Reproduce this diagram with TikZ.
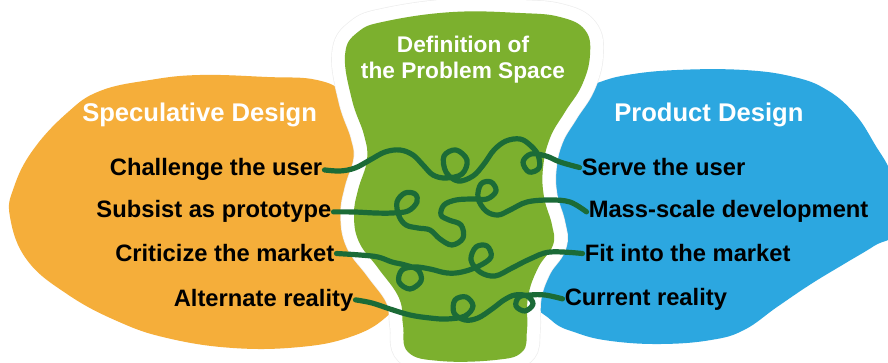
\documentclass[tikz,border=0pt]{standalone}
\usepackage{fontspec}
\setmainfont{Liberation Sans}
\definecolor{orangeblob}{RGB}{245,174,58}
\definecolor{greenblob}{RGB}{124,176,46}
\definecolor{blueblob}{RGB}{44,167,224}
\definecolor{linegreen}{RGB}{27,107,55}
\tikzset{
  lbl/.style={font=\fontsize{17.8}{20}\selectfont\bfseries, text=black, inner sep=1.5pt},
  ttl/.style={font=\fontsize{19.2}{22}\selectfont\bfseries, text=white, inner sep=0pt},
  ctl/.style={font=\fontsize{17}{19.5}\selectfont\bfseries, text=white, inner sep=0pt},
  squiggle/.style={draw=linegreen, line width=3.9pt, line cap=round, line join=round}
}
\begin{document}
\begin{tikzpicture}[x=0.75pt,y=-0.75pt]
\useasboundingbox (0,0) rectangle (888,363);
\clip (0,0) rectangle (888,363);
\fill[white] (0,0) rectangle (888,363);
% orange blob
\fill[orangeblob] plot[smooth cycle, tension=0.7] coordinates {
 (10,217) (14,187) (33,150) (67,113) (100,91) (150,80) (200,75) (267,77) (317,80)
 (345,95) (368,130) (388,180) (400,240) (402,292) (385,318) (350,337) (300,347)
 (233,348) (167,338) (117,321) (67,294) (27,260)};
% blue blob
\fill[blueblob] plot[smooth cycle, tension=0.7] coordinates {
 (530,120) (565,95) (597,83) (627,75) (677,70) (744,70) (794,77) (827,90) (854,113)
 (874,143) (893,180) (896,230) (874,246) (844,264) (811,284) (777,307) (744,330)
 (711,340) (661,344) (611,341) (577,333) (551,320) (530,290) (524,200)};
% green blob with white halo
\path[fill=greenblob,
      preaction={draw=black!7, line width=20.5pt},
      preaction={draw=white, line width=19.5pt}]
 plot[smooth cycle, tension=0.7] coordinates {
 (345,55) (358,32) (387,21) (453,12) (520,13) (560,17) (585,30) (590,55) (582,85)
 (565,112) (550,138) (543,168) (544,197) (552,225) (553,245) (538,268) (528,297)
 (527,330) (522,352) (495,360) (440,361) (408,352) (403,325) (399,298) (378,268)
 (359,242) (354,215) (358,190) (367,160) (364,135) (352,100)};
% titles
\node[ttl, anchor=base west] (spec) at (82,122) {Speculative Design};
\node[ttl, anchor=base west] (prod) at (614,122) {Product Design};
\node[ctl, anchor=base] (def1) at (463,53) {Definition of};
\node[ctl, anchor=base] (def2) at (463,79) {the Problem Space};
% left labels
\node[lbl, anchor=base east] (l1) at (324.5,176) {Challenge the user};
\node[lbl, anchor=base east] (l2) at (333.5,218) {Subsist as prototype};
\node[lbl, anchor=base east] (l3) at (336.5,262) {Criticize the market};
\node[lbl, anchor=base east] (l4) at (355.5,306) {Alternate reality};
% right labels
\node[lbl, anchor=base west] (r1) at (579.5,176) {Serve the user};
\node[lbl, anchor=base west] (r2) at (586.5,218) {Mass-scale development};
\node[lbl, anchor=base west] (r3) at (582.5,262) {Fit into the market};
\node[lbl, anchor=base west] (r4) at (562.5,305) {Current reality};
% squiggles
\draw[squiggle] plot[smooth, tension=0.6] coordinates {(l1.east) (340,171) (355,168)
 (370,160) (385,152) (400,150) (413,155) (423,165) (433,175) (446,178) (462,174)
 (467,160) (456,150) (444,156) (446,172) (458,181) (473,176) (484,164) (494,150)
 (506,141) (520,139) (530,145) (538,155) (539,168) (529,172) (523,162) (531,154)
 (546,156) (560,162) (r1.west)};
\draw[squiggle] plot[smooth, tension=0.6] coordinates {(l2.east) (355,212) (375,213)
 (392,213) (408,211) (417,202) (415,194) (405,193) (397,202) (399,216) (406,225)
 (418,228) (430,230) (440,239) (452,245) (463,238) (461,225) (449,220) (441,215)
 (444,205) (456,200) (472,199) (487,199) (496,191) (491,182) (481,184) (478,198)
 (486,211) (498,215) (510,210) (527,202) (550,200) (570,202) (r2.west)};
\draw[squiggle] plot[smooth, tension=0.6] coordinates {(l3.east) (360,255) (378,257)
 (392,262) (405,265) (418,270) (421,281) (410,289) (399,282) (402,270) (415,267)
 (430,269) (447,273) (462,272) (479,266) (491,257) (487,246) (476,247) (471,260)
 (480,272) (495,276) (512,268) (530,259) (550,252) (r3.west)};
\draw[squiggle] plot[smooth, tension=0.6] coordinates {(l4.east) (372,303) (390,309)
 (410,315) (430,318) (447,319) (465,316) (473,306) (466,297) (455,300) (454,313)
 (465,320) (478,318) (492,309) (504,300) (515,295) (527,296) (533,304) (525,311)
 (516,306) (519,297) (530,295) (545,295) (r4.west)};
\end{tikzpicture}
\end{document}
